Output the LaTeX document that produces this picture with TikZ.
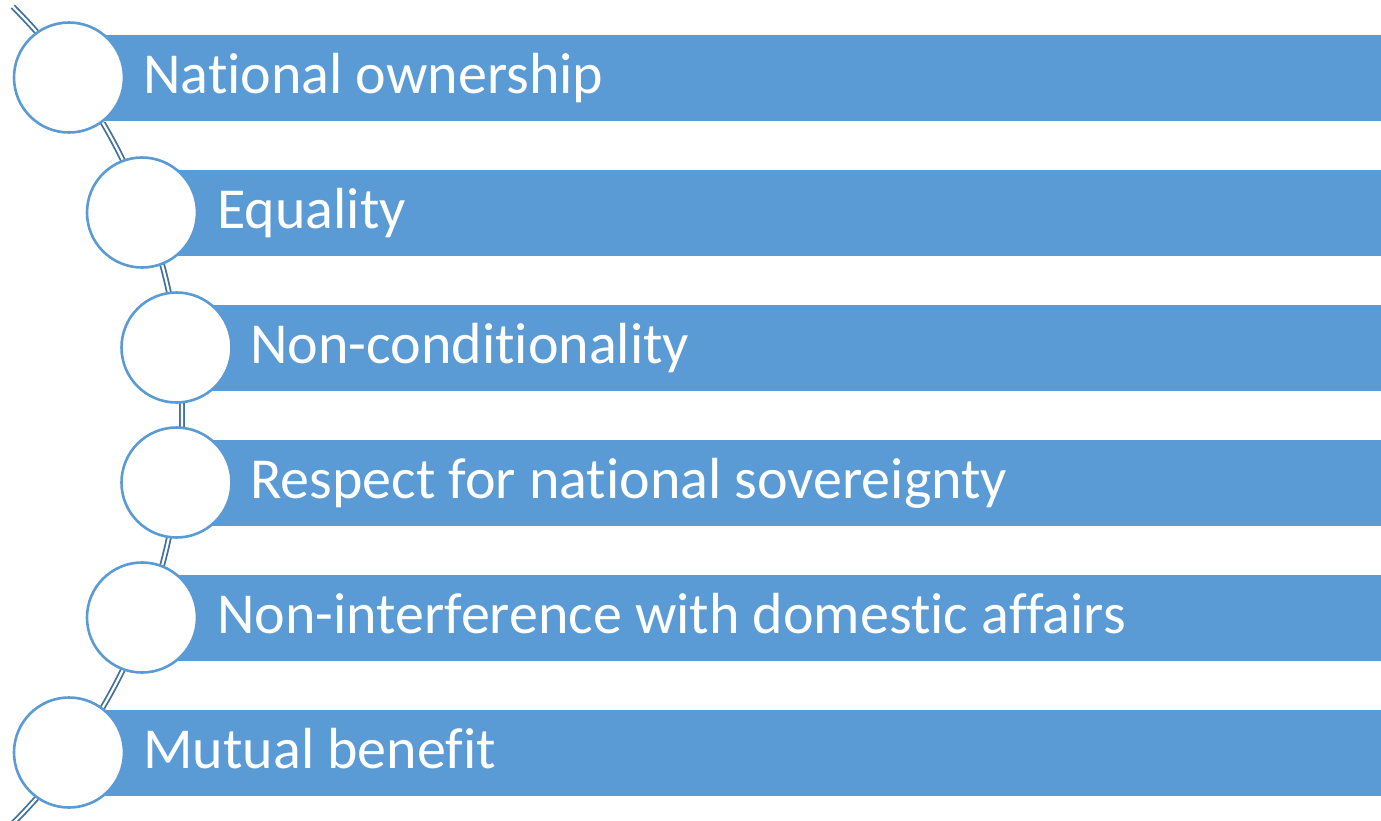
\documentclass[tikz,border=0pt]{standalone}
\usepackage{fontspec}
\setmainfont[Ligatures={NoCommon}]{Carlito}
\definecolor{barblue}{HTML}{5B9BD5}
\definecolor{arcblue}{HTML}{41719C}
\begin{document}
\begin{tikzpicture}[x=0.5pt,y=-0.5pt,
  bar/.style={fill=barblue, draw=white, line width=0.4pt, inner sep=0, minimum height=43.5pt, anchor=west},
  ring/.style={circle, fill=white, draw=barblue, line width=1.3pt, minimum size=55pt, inner sep=0},
  label/.style={anchor=base west, text=white, font=\fontsize{29}{33}\selectfont, inner sep=0}]
\useasboundingbox (0,0) rectangle (1381,820);
% arc
\draw[arcblue, line width=0.9pt, double=white, double distance=1.1pt]
  (-395.5,415) ++(-45:577.5) arc[start angle=-45, end angle=45, radius=577.5];
% bars
\foreach \i/\cx/\cy in {1/69/77.5, 2/142/212.5, 3/176.5/347.5, 4/176.5/482.5, 5/142/617.5, 6/69/752.5}{
  \node (b\i) [bar, minimum width={(1382-\cx)*0.5pt}] at (\cx,\cy) {};
}
% circles
\foreach \i/\cx/\cy in {1/69/77.5, 2/142/212.5, 3/176.5/347.5, 4/176.5/482.5, 5/142/617.5, 6/69/752.5}{
  \node (c\i) [ring] at (\cx,\cy) {};
}
% labels
\node (t1) [label] at (143,93) {National ownership};
\node (t2) [label] at (217,228) {Equality};
\node (t3) [label] at (250,363) {Non-conditionality};
\node (t4) [label] at (250,498) {Respect for national sovereignty};
\node (t5) [label] at (217,633) {Non-interference with domestic affairs};
\node (t6) [label] at (143,768) {Mutual benefit};
\end{tikzpicture}
\end{document}
